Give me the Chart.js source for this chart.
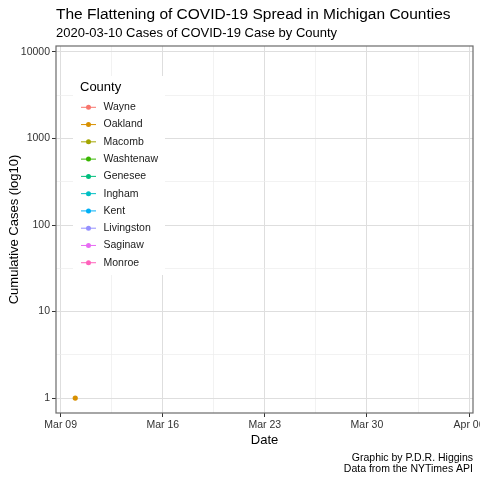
<!DOCTYPE html>
<html>
<head>
<meta charset="utf-8">
<script src="https://cdn.jsdelivr.net/npm/chart.js@4"></script>
<style>
html,body{margin:0;padding:0;background:#fff;}
#wrap{width:480px;height:480px;position:relative;}
</style>
</head>
<body>
<div id="wrap"><canvas id="c" width="480" height="480"></canvas></div>
<script>
// ---- data ----
const titleText = 'The Flattening of COVID-19 Spread in Michigan Counties';
const subtitleText = '2020-03-10 Cases of COVID-19 Case by County';
const captionLines = ['Graphic by P.D.R. Higgins', 'Data from the NYTimes API'];
const counties = ['Wayne','Oakland','Macomb','Washtenaw','Genesee','Ingham','Kent','Livingston','Saginaw','Monroe'];
const countyColors = ['#F8766D','#D89000','#A3A500','#39B600','#00BF7D','#00BFC4','#00B0F6','#9590FF','#E76BF3','#FF62BC'];
const dates = ['2020-03-10'];
const casesWayne = [null];
const casesOakland = [1];
const casesMacomb = [null];
const casesWashtenaw = [null];
const casesGenesee = [null];
const casesIngham = [null];
const casesKent = [null];
const casesLivingston = [null];
const casesSaginaw = [null];
const casesMonroe = [null];
const xTickDates = ['2020-03-09','2020-03-16','2020-03-23','2020-03-30','2020-04-06'];
const xTickLabels = ['Mar 09','Mar 16','Mar 23','Mar 30','Apr 06'];
const xRange = ['2020-03-09','2020-04-06'];
const yTicks = [1,10,100,1000,10000];

const seriesValues = [casesWayne,casesOakland,casesMacomb,casesWashtenaw,casesGenesee,casesIngham,casesKent,casesLivingston,casesSaginaw,casesMonroe];
const day0 = Date.UTC(2020,2,9);
function dayNum(s){const p=s.split('-').map(Number);return (Date.UTC(p[0],p[1]-1,p[2])-day0)/86400000;}
const xMajor = xTickDates.map(dayNum);
const xMinor = [];
for(let i=0;i<xMajor.length-1;i++) xMinor.push((xMajor[i]+xMajor[i+1])/2);
const yMinor = [];
for(let i=0;i<yTicks.length-1;i++) yMinor.push(Math.sqrt(yTicks[i]*yTicks[i+1]));
const xLo = dayNum(xRange[0]), xHi = dayNum(xRange[1]);
const lyLo = Math.log10(yTicks[0]), lyHi = Math.log10(yTicks[yTicks.length-1]);
const yPadDec = [0.173, 0.069];

const datasets = counties.map((c,i)=>({
  label:c,
  data: dates.map((d,j)=>({x:dayNum(d), y:seriesValues[i][j]})).filter(p=>p.y!=null),
  borderColor: countyColors[i],
  backgroundColor: countyColors[i],
  pointRadius: 2.6,
  pointHoverRadius: 2.6,
  pointBorderWidth: 0,
  borderWidth: 1,
  showLine: true
}));

const FONT = '"Liberation Sans", Arial, Helvetica, sans-serif';

const decor = {
  id:'decor',
  afterDraw(chart){
    const ctx = chart.ctx, a = chart.chartArea;
    ctx.save();
    // panel border
    ctx.strokeStyle = '#6b6b6b'; ctx.lineWidth = 1.2;
    ctx.strokeRect(a.left, a.top, a.right-a.left, a.bottom-a.top);
    // titles
    ctx.fillStyle = '#000'; ctx.textBaseline = 'alphabetic'; ctx.textAlign = 'left';
    ctx.font = '15.5px ' + FONT;
    ctx.fillText(titleText, a.left, 19);
    ctx.font = '13px ' + FONT;
    ctx.fillText(subtitleText, a.left, 37);
    // axis titles
    ctx.font = '13px ' + FONT; ctx.textAlign = 'center';
    ctx.fillText('Date', (a.left+a.right)/2, 444);
    ctx.save();
    ctx.translate(18, (a.top+a.bottom)/2);
    ctx.rotate(-Math.PI/2);
    ctx.fillText('Cumulative Cases (log10)', 0, 0);
    ctx.restore();
    // caption
    ctx.font = '10.5px ' + FONT; ctx.textAlign = 'right';
    ctx.fillText(captionLines[0], a.right, 461);
    ctx.fillText(captionLines[1], a.right, 472);
    // legend
    ctx.fillStyle = '#fff';
    ctx.fillRect(73, 76, 92, 199);
    ctx.fillStyle = '#000'; ctx.textAlign = 'left'; ctx.textBaseline = 'middle';
    ctx.font = '13px ' + FONT;
    ctx.fillText('County', 80, 87);
    ctx.font = '10.5px ' + FONT;
    counties.forEach((c,i)=>{
      const y = 107.3 + i*17.27;
      ctx.strokeStyle = countyColors[i]; ctx.lineWidth = 1;
      ctx.beginPath(); ctx.moveTo(81, y); ctx.lineTo(96, y); ctx.stroke();
      ctx.fillStyle = countyColors[i];
      ctx.beginPath(); ctx.arc(88.5, y, 2.5, 0, Math.PI*2); ctx.fill();
      ctx.fillStyle = '#1a1a1a';
      ctx.fillText(c, 103.5, y);
    });
    ctx.restore();
  }
};

new Chart(document.getElementById('c'), {
  type:'line',
  data:{datasets},
  options:{
    responsive:false,
    animation:false,
    layout:{padding:{top:46, right:7, left:0, bottom:0}},
    plugins:{legend:{display:false}, tooltip:{enabled:false}, title:{display:false}},
    scales:{
      x:{
        type:'linear',
        min: xLo - 0.32, max: xHi + 0.27,
        afterBuildTicks(s){ s.ticks = xMajor.concat(xMinor).sort((a,b)=>a-b).map(v=>({value:v})); },
        afterFit(s){ s.height = 67; s.paddingLeft = 0; s.paddingRight = 0; },
        ticks:{
          autoSkip:false, maxRotation:0, padding:2,
          color:'#333', font:{family:FONT, size:10.5},
          callback(v){ const k = xMajor.indexOf(v); return k>=0 ? xTickLabels[k] : ''; }
        },
        grid:{
          color(ctx){ return xMajor.includes(ctx.tick && ctx.tick.value) ? '#dedede' : '#ececec'; },
          lineWidth(ctx){ return xMajor.includes(ctx.tick && ctx.tick.value) ? 1 : 0.7; },
          tickColor(ctx){ return xMajor.includes(ctx.tick && ctx.tick.value) ? '#333' : 'rgba(0,0,0,0)'; },
          tickLength:4, drawTicks:true
        },
        border:{display:false}
      },
      y:{
        type:'logarithmic',
        min: Math.pow(10, lyLo - yPadDec[0]), max: Math.pow(10, lyHi + yPadDec[1]),
        afterBuildTicks(s){ s.ticks = yTicks.concat(yMinor).sort((a,b)=>a-b).map(v=>({value:v})); },
        afterFit(s){ s.width = 56; s.paddingTop = 0; s.paddingBottom = 0; },
        ticks:{
          autoSkip:false, padding:2,
          color:'#333', font:{family:FONT, size:10.5},
          callback(v){ return yTicks.includes(v) ? String(v) : ''; }
        },
        grid:{
          color(ctx){ return yTicks.includes(ctx.tick && ctx.tick.value) ? '#dedede' : '#ececec'; },
          lineWidth(ctx){ return yTicks.includes(ctx.tick && ctx.tick.value) ? 1 : 0.7; },
          tickColor(ctx){ return yTicks.includes(ctx.tick && ctx.tick.value) ? '#333' : 'rgba(0,0,0,0)'; },
          tickLength:4, drawTicks:true
        },
        border:{display:false}
      }
    }
  },
  plugins:[decor]
});
</script>
</body>
</html>
